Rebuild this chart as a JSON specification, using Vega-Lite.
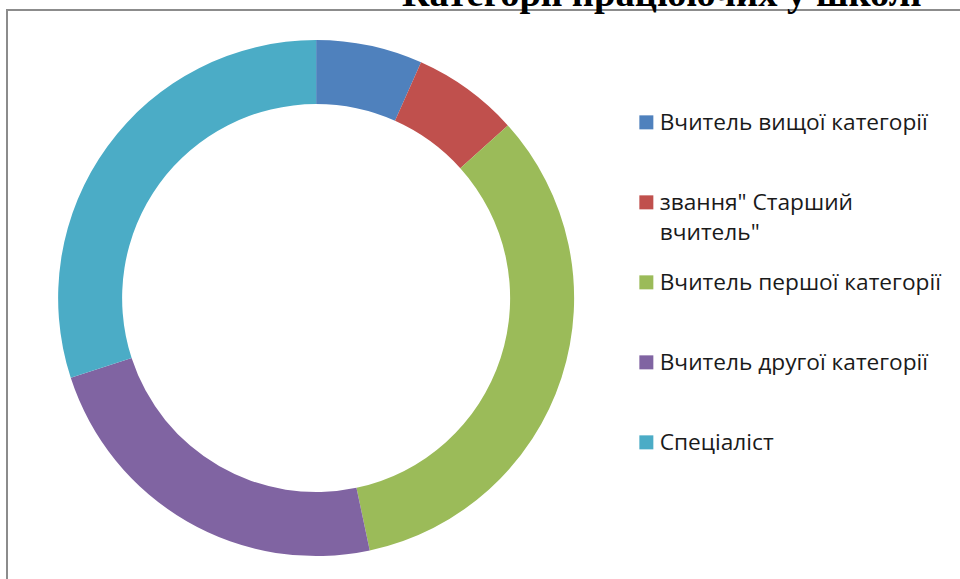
{
  "$schema": "https://vega.github.io/schema/vega-lite/v6.json",
  "width": 960,
  "height": 579,
  "autosize": {"type": "none"},
  "padding": {"left": 7, "top": 10, "right": 0, "bottom": 0},
  "background": "white",
  "view": {"stroke": "#8c8c8c", "strokeWidth": 2},
  "title": {
    "text": "Категорії працюючих у школі",
    "font": "Liberation Serif",
    "fontSize": 38.5,
    "fontWeight": "bold",
    "color": "black",
    "anchor": "start",
    "dx": 395,
    "dy": 4,
    "offset": 0
  },
  "config": {
    "view": {"stroke": "#8c8c8c", "strokeWidth": 2}
  },
  "data": {
    "values": [
      {"idx": 1, "category": "Вчитель вищої категорії", "count": 2},
      {"idx": 2, "category": "звання\" Старший вчитель\"", "count": 2},
      {"idx": 3, "category": "Вчитель першої категорії", "count": 10},
      {"idx": 4, "category": "Вчитель другої категорії", "count": 7},
      {"idx": 5, "category": "Спеціаліст", "count": 9}
    ]
  },
  "mark": {
    "type": "arc",
    "outerRadius": 258,
    "innerRadius": 194,
    "x": {"expr": "width * 0.322"},
    "y": {"expr": "height * 0.4975"},
    "strokeWidth": 0
  },
  "encoding": {
    "theta": {"field": "count", "type": "quantitative", "stack": true},
    "order": {"field": "idx", "type": "quantitative"},
    "color": {
      "field": "category",
      "type": "nominal",
      "sort": null,
      "scale": {
        "domain": ["Вчитель вищої категорії", "звання\" Старший вчитель\"", "Вчитель першої категорії", "Вчитель другої категорії", "Спеціаліст"],
        "range": ["#4F81BD", "#C0504D", "#9BBB59", "#8064A2", "#4BACC6"]
      },
      "legend": {
        "orient": "none",
        "legendX": 628,
        "legendY": 101,
        "title": null,
        "padding": 0,
        "labelFont": "Open Sans",
        "labelFontSize": 22.7,
        "labelColor": "#1a1a1a",
        "labelLimit": 400,
        "labelOffset": 2,
        "labelBaseline": "alphabetic",
        "symbolType": "square",
        "symbolSize": 196,
        "symbolStrokeWidth": 0,
        "symbolOpacity": 1,
        "rowPadding": 25,
        "labelExpr": "indexof(datum.label, 'звання') == 0 ? ['звання\" Старший', 'вчитель\"'] : [datum.label, ' ']",
        "encode": {"labels": {"update": {"dy": {"value": 8}, "lineHeight": {"value": 30}}}}
      }
    }
  }
}
